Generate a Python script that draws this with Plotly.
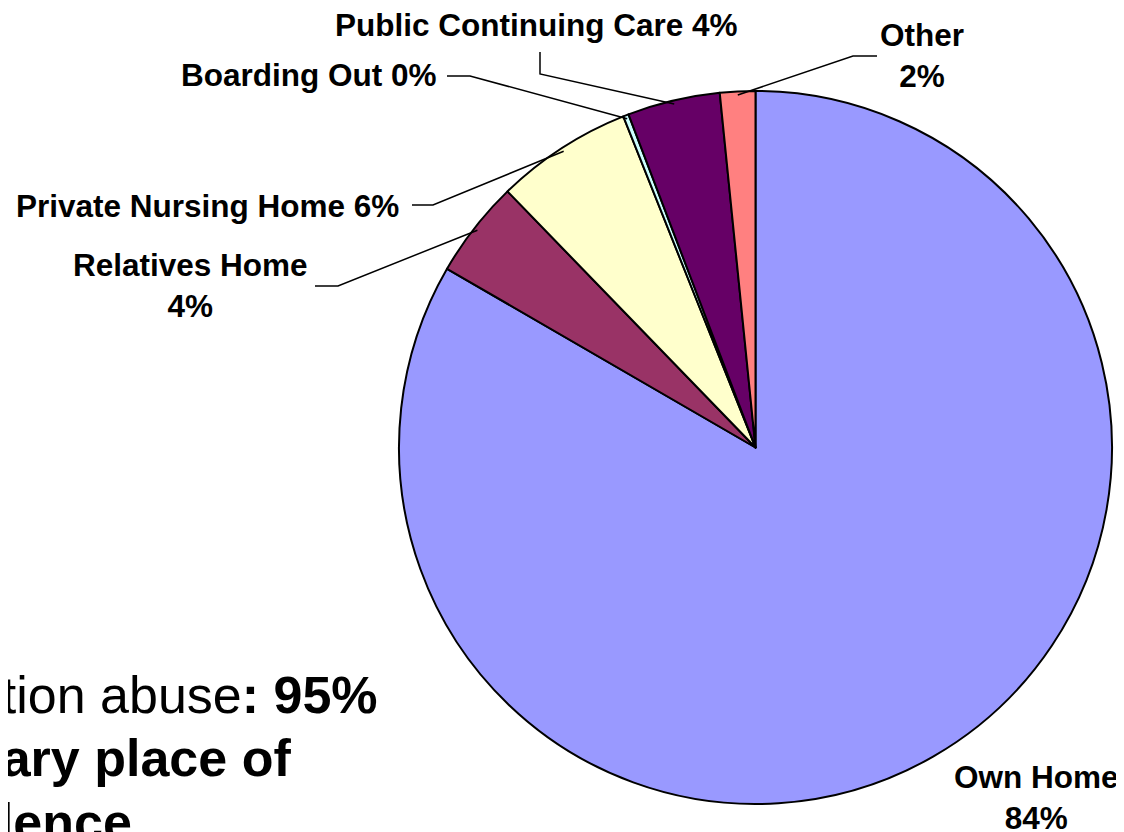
import math
import plotly.graph_objects as go

# data (clockwise from 12 o'clock)
labels = ["Own Home", "Relatives Home", "Private Nursing Home", "Boarding Out",
          "Public Continuing Care", "Other"]
values = [83.4, 4.4, 6.2, 0.25, 4.2, 1.6]
pct_text = ["84%", "4%", "6%", "0%", "4%", "2%"]
colors = ["#9999FF", "#993366", "#FFFFCC", "#CCFFFF", "#660066", "#FF8080"]

# the page body has an 8px margin, so the figure sits at (8, 8)
OFF = 8
W, H = 1124 - OFF, 832 - OFF
FONT = "Liberation Sans, Arial, sans-serif"
LBL = 31.5

# pie geometry in screen pixels
CX, CY, R = 755.5, 447.5, 356.5


def fx(x):
    return (x - OFF) / W


def fy(y):
    return 1 - (y - OFF) / H


fig = go.Figure(go.Pie(
    labels=labels, values=values,
    sort=False, direction="clockwise", rotation=0,
    marker=dict(colors=colors, line=dict(color="black", width=2)),
    textinfo="none", hoverinfo="label+percent",
    domain=dict(x=[fx(CX - R), fx(CX + R)], y=[fy(CY + R), fy(CY - R)]),
    showlegend=False,
))

# where each leader line touches its slice (middle of the slice's arc)
total = sum(values)
mids = []
cum = 0
for v in values:
    theta = math.radians(360 * (cum + v / 2) / total)
    mids.append((CX + 0.99 * R * math.sin(theta), CY - 0.99 * R * math.cos(theta)))
    cum += v

# label text positions and leader elbows (screen pixels)
label_specs = {
    "Relatives Home": dict(text=f"Relatives Home<br>{pct_text[1]}", x=190, y=286, elbow=[(315, 286), (338, 286)]),
    "Private Nursing Home": dict(text=f"Private Nursing Home {pct_text[2]}", x=207, y=206, elbow=[(412, 205), (433, 205)]),
    "Boarding Out": dict(text=f"Boarding Out {pct_text[3]}", x=309, y=75, elbow=[(447, 76), (470, 76)]),
    "Public Continuing Care": dict(text=f"Public Continuing Care {pct_text[4]}", x=536, y=25, elbow=[(540, 52), (540, 74)]),
    "Other": dict(text=f"Other<br>{pct_text[5]}", x=922, y=56, elbow=[(877, 56), (853, 56)]),
}

annotations = []
shapes = []
for i, name in enumerate(labels):
    if name not in label_specs:
        continue
    spec = label_specs[name]
    annotations.append(dict(
        text=f"<b>{spec['text']}</b>", x=fx(spec["x"]), y=fy(spec["y"]),
        xref="paper", yref="paper", xanchor="center", yanchor="middle",
        showarrow=False, font=dict(family=FONT, size=LBL, color="black"),
    ))
    pts = spec["elbow"] + [mids[i]]
    path = "M " + " L ".join(f"{fx(x)},{fy(y)}" for x, y in pts)
    shapes.append(dict(type="path", path=path, xref="paper", yref="paper",
                       line=dict(color="black", width=1.5)))

# own home label, no leader
annotations.append(dict(
    text=f"<b>Own Home<br>{pct_text[0]}</b>", x=fx(1036), y=fy(797),
    xref="paper", yref="paper", xanchor="center", yanchor="middle",
    showarrow=False, font=dict(family=FONT, size=LBL, color="black"),
))

# slide text behind the chart, cut off at the left edge
slide_lines = [
    ("Location abuse<b>: 95%</b>", 695),
    ("<b>primary place of</b>", 758),
    ("<b>residence</b>", 822),
]
for txt, y in slide_lines:
    annotations.append(dict(
        text=txt, x=fx(-113), y=fy(y), xref="paper", yref="paper",
        xanchor="left", yanchor="middle", showarrow=False,
        font=dict(family=FONT, size=52, color="black"),
    ))

fig.update_layout(
    width=W, height=H,
    margin=dict(l=0, r=0, t=0, b=0),
    paper_bgcolor="white", plot_bgcolor="white",
    annotations=annotations, shapes=shapes,
)

fig.write_html("out.html")
